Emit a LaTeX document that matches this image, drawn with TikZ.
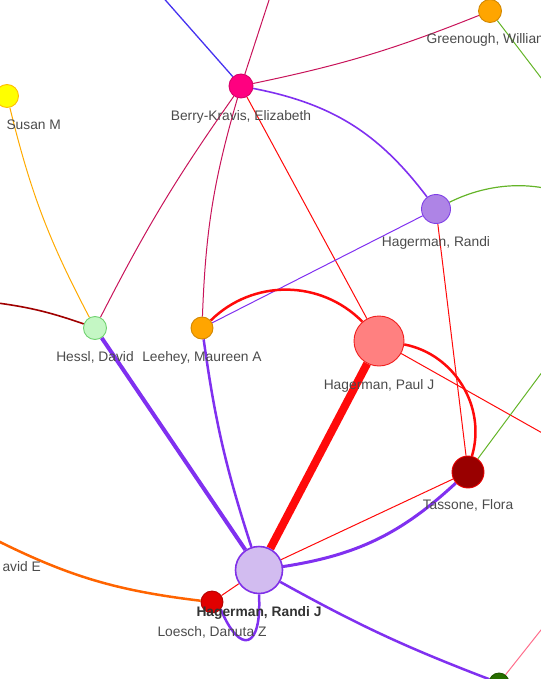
\documentclass[tikz,border=0pt]{standalone}
\usepackage{fontspec}
\setmainfont{Liberation Sans}
\usetikzlibrary{positioning,backgrounds}

\definecolor{namegray}{RGB}{75,75,75}
\definecolor{bkfill}{RGB}{255,0,128}
\definecolor{bkline}{RGB}{215,0,105}
\definecolor{orfill}{RGB}{255,165,0}
\definecolor{orline}{RGB}{210,135,0}
\definecolor{yefill}{RGB}{255,255,0}
\definecolor{yeline}{RGB}{255,190,0}
\definecolor{hrfill}{RGB}{174,132,230}
\definecolor{hrline}{RGB}{128,64,230}
\definecolor{hdfill}{RGB}{196,247,196}
\definecolor{hdline}{RGB}{112,210,112}
\definecolor{pjfill}{RGB}{255,128,128}
\definecolor{pjline}{RGB}{240,30,30}
\definecolor{tffill}{RGB}{153,0,0}
\definecolor{tfline}{RGB}{230,0,0}
\definecolor{rjfill}{RGB}{210,188,240}
\definecolor{rjline}{RGB}{128,48,232}
\definecolor{lofill}{RGB}{225,0,0}
\definecolor{loline}{RGB}{180,0,0}
\definecolor{gnfill}{RGB}{40,110,0}
\definecolor{edgecrimson}{RGB}{200,20,90}
\definecolor{edgeblue}{RGB}{70,50,240}
\definecolor{edgepurple}{RGB}{128,48,240}
\definecolor{edgered}{RGB}{255,10,10}
\definecolor{edgegreen}{RGB}{100,180,40}
\definecolor{edgedark}{RGB}{160,0,0}
\definecolor{edgeorange}{RGB}{255,100,0}
\definecolor{edgeamber}{RGB}{255,170,0}
\definecolor{edgepink}{RGB}{255,110,140}

\tikzset{
  person/.style={circle, draw, line width=0.9pt, inner sep=0pt},
  who/.style={font=\fontsize{13.8}{16}\selectfont, text=namegray, anchor=base},
  link/.style={line width=1pt},
}

\begin{document}
\begin{tikzpicture}[x=1pt, y=-1pt]
    \useasboundingbox (0,0) rectangle (540,679);
    \clip (0,0) rectangle (540,679);

    % People
    \node[person, fill=bkfill, draw=bkline, minimum size=24pt] (bk) at (241,86) {};
    \node[person, fill=orfill, draw=orline, minimum size=23pt] (gw) at (490,11) {};
    \node[person, fill=yefill, draw=yeline, minimum size=23pt] (sm) at (7,96) {};
    \node[person, fill=hrfill, draw=hrline, minimum size=29pt] (hr) at (436,209) {};
    \node[person, fill=hdfill, draw=hdline, minimum size=23pt] (hd) at (95,328) {};
    \node[person, fill=orfill, draw=orline, minimum size=22pt] (ml) at (202,328) {};
    \node[person, fill=pjfill, draw=pjline, minimum size=50pt] (pj) at (379,341) {};
    \node[person, fill=tffill, draw=tfline, minimum size=32pt] (tf) at (468,472) {};
    \node[person, fill=rjfill, draw=rjline, line width=1.6pt, minimum size=47pt] (rj) at (259,570) {};
    \node[person, fill=lofill, draw=loline, minimum size=22pt] (lo) at (212,602) {};
    \node[person, fill=gnfill, draw=gnfill!80!black, minimum size=20pt] (gn) at (499,683) {};

    % Names
    \node[who] (bkname) at (241,121) {Berry-Kravis, Elizabeth};
    \node[who, anchor=base west] (gwname) at (423,44) {Greenough, William};
    \node[who, anchor=base west] (smname) at (3,130) {Susan M};
    \node[who] (hrname) at (436,246) {Hagerman, Randi};
    \node[who] (hdname) at (95,361) {Hessl, David};
    \node[who] (mlname) at (202,361) {Leehey, Maureen A};
    \node[who] (pjname) at (379,389) {Hagerman, Paul J};
    \node[who] (tfname) at (468,509) {Tassone, Flora};
    \node[who, font=\fontsize{13.8}{16}\selectfont\bfseries, text=black!80] (rjname) at (259,616) {Hagerman, Randi J};
    \node[who] (loname) at (212,636) {Loesch, Danuta Z};
    \node[who, anchor=base west] (dename) at (-1,571) {avid E};

    % Ends off the page
    \coordinate (offTL) at (160,-6);
    \coordinate (offT) at (271,-6);
    \coordinate (offGW) at (558,100);
    \coordinate (offHR) at (560,192);
    \coordinate (offPJ) at (560,443);
    \coordinate (offTF) at (560,348);
    \coordinate (offHD) at (-10,302);
    \coordinate (offLO) at (-10,537);
    \coordinate (offGN) at (560,606);

    % Links
    \begin{scope}[on background layer]
    \draw[link, edgeblue, line width=1.3pt] (bk) -- (offTL);
    \draw[link, edgecrimson] (bk) -- (offT);
    \draw[link, edgecrimson] (bk) to[bend right=5] (gw);
    \draw[link, edgepurple, line width=1.6pt] (bk) to[bend left=21] (hr);
    \draw[link, edgecrimson] (bk) to[bend right=4] (hd);
    \draw[link, edgecrimson] (bk) to[bend right=7] (ml);
    \draw[link, edgered] (bk) -- (pj);
    \draw[link, edgegreen] (gw) -- (offGW);
    \draw[link, edgegreen, line width=1.2pt] (hr) .. controls (482,186) and (522,180) .. (offHR);
    \draw[link, edgepurple] (hr) -- (ml);
    \draw[link, edgered] (hr) -- (tf);
    \draw[link, edgeamber] (sm) to[bend right=7] (hd);
    \draw[link, edgedark, line width=1.6pt] (offHD) to[bend left=6] (hd);
    \draw[link, edgepurple, line width=4pt] (hd) -- (rj);
    \draw[link, edgepurple, line width=2.5pt] (ml) to[bend right=5] (rj);
    \draw[link, edgered, line width=2.5pt] (ml) to[bend left=45] (pj);
    \draw[link, edgered, line width=8pt] (pj) -- (rj);
    \draw[link, edgered, line width=2.5pt] (pj) to[bend left=48] (tf);
    \draw[link, edgered] (pj) -- (offPJ);
    \draw[link, edgepurple, line width=3pt] (tf) to[bend left=17] (rj);
    \draw[link, edgered] (rj) -- (tf);
    \draw[link, edgegreen] (tf) -- (offTF);
    \draw[link, edgered] (rj) -- (lo);
    \draw[link, edgepurple, line width=2.5pt] (rj.south) .. controls (262,650) and (240,655) .. (lo.-40);
    \draw[link, edgeorange, line width=2.5pt] (offLO) to[bend right=10] (lo);
    \draw[link, edgepurple, line width=2.5pt] (rj) to[bend right=4] (gn);
    \draw[link, edgepink] (gn) -- (offGN);
    \end{scope}
\end{tikzpicture}
\end{document}
